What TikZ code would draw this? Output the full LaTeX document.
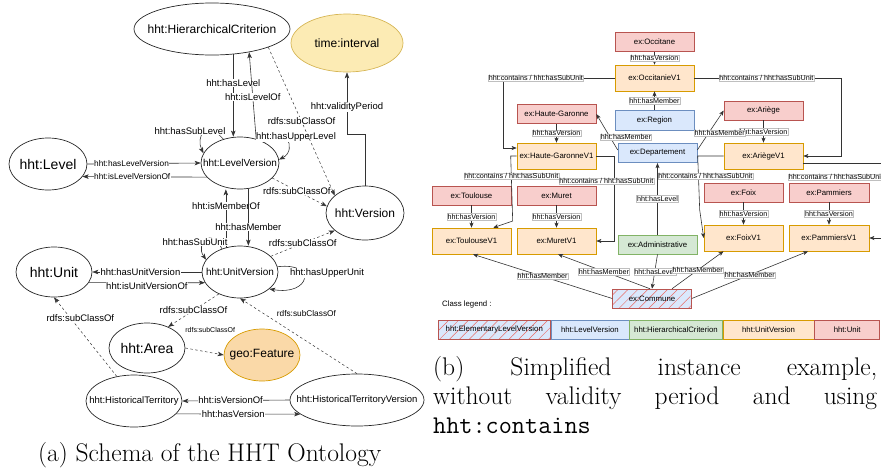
\documentclass[tikz,border=0pt]{standalone}
\usepackage{fontspec}
\newfontfamily\arial{Liberation Sans}
\usetikzlibrary{shapes.geometric,arrows.meta,positioning,patterns.meta}
\definecolor{redF}{HTML}{F8CECC}\definecolor{redD}{HTML}{B85450}
\definecolor{orgF}{HTML}{FFE6CC}\definecolor{orgD}{HTML}{D79B00}
\definecolor{bluF}{HTML}{DAE8FC}\definecolor{bluD}{HTML}{6C8EBF}
\definecolor{grnF}{HTML}{D5E8D4}\definecolor{grnD}{HTML}{82B366}
\definecolor{ylwF}{HTML}{FCEBB4}\definecolor{ylwD}{HTML}{D6B656}
\definecolor{geoF}{HTML}{FAD9A8}
\definecolor{hatchC}{HTML}{EA6B66}
\begin{document}
\begin{tikzpicture}[x=1pt,y=-1pt,
  cls/.style={ellipse, draw=black!85, line width=0.7pt, inner sep=0pt},
  tL/.style={font=\arial\fontsize{14}{16}\selectfont},
  tM/.style={font=\arial\fontsize{12}{14}\selectfont},
  tS/.style={font=\arial\fontsize{10}{12}\selectfont},
  tXS/.style={font=\arial\fontsize{9.5}{11}\selectfont},
  arr/.style={draw=black!80, line width=0.6pt, -{Stealth[length=6pt,width=4.5pt,inset=1.5pt]}},
  subc/.style={arr, dash pattern=on 2.5pt off 2.5pt, line width=0.5pt},
  lbl/.style={fill=white, inner sep=0.5pt, font=\arial\fontsize{9.5}{11}\selectfont},
  lblS/.style={lbl, font=\arial\fontsize{8.3}{10}\selectfont},
  lblT/.style={lbl, font=\arial\fontsize{7}{8}\selectfont},
  inst/.style={draw, line width=0.6pt, minimum width=79pt, inner sep=0pt, font=\arial\fontsize{7.8}{9}\selectfont},
  redbox/.style={inst, fill=redF, draw=redD, minimum height=19pt},
  orgbox/.style={inst, fill=orgF, draw=orgD, minimum height=26pt},
  blubox/.style={inst, fill=bluF, draw=bluD, minimum height=19.5pt},
  grnbox/.style={inst, fill=grnF, draw=grnD, minimum height=19pt},
  hatchbox/.style={inst, draw=redD, preaction={fill=bluF}, pattern={Lines[angle=45,distance=7pt,line width=0.5pt]}, pattern color=hatchC, minimum height=19pt},
  rarr/.style={draw=black!80, line width=0.6pt, -{Stealth[length=5pt,width=4pt,inset=1.2pt]}},
  rlbl/.style={fill=white, draw=black!25, line width=0.3pt, inner sep=0.6pt, font=\arial\fontsize{7.2}{8}\selectfont},
  capt/.style={inner sep=0pt, font=\fontsize{25.5}{29}\selectfont}
]
\useasboundingbox (0,0) rectangle (881,472);

\node[cls, minimum width=156pt, minimum height=52pt, label={[tM]center:{hht:HierarchicalCriterion}}] (hc) at (212,29) {};
\node[cls, fill=ylwF, draw=ylwD, minimum width=112pt, minimum height=58pt, label={[tM]center:{time:interval}}] (ti) at (347,43) {};
\node[cls, minimum width=78pt, minimum height=52pt, label={[tL]center:{hht:Level}}] (lvl) at (48,164) {};
\node[cls, minimum width=78pt, minimum height=52pt, label={[tS]center:{hht:LevelVersion}}] (lv) at (240,163) {};
\node[cls, minimum width=78pt, minimum height=54pt, label={[tM]center:{hht:Version}}] (ver) at (365,213) {};
\node[cls, minimum width=76pt, minimum height=52pt, label={[tS]center:{hht:UnitVersion}}] (uv) at (240,272) {};
\node[cls, minimum width=76pt, minimum height=50pt, label={[tL]center:{hht:Unit}}] (unt) at (54,272) {};
\node[cls, minimum width=76pt, minimum height=50pt, label={[tL]center:{hht:Area}}] (area) at (147,348) {};
\node[cls, fill=geoF, draw=orgD, minimum width=76pt, minimum height=52pt, label={[tM]center:{geo:Feature}}] (geo) at (262,355) {};
\node[cls, minimum width=96pt, minimum height=52pt, label={[tXS]center:{hht:HistoricalTerritory}}] (ht) at (134,401) {};
\node[cls, minimum width=134pt, minimum height=52pt, label={[tXS]center:{hht:HistoricalTerritoryVersion}}] (htv) at (357,400) {};

\draw[arr] (lv.125) .. controls (205,118) and (196,138) .. (lv.165) node[lbl] at (190,131) {hht:hasSubLevel};
\draw[arr] (lv.40) .. controls (285,120) and (298,150) .. (lv.5) node[lbl] at (296,137) {hht:hasUpperLevel};
\draw[arr] (hc.-50) -- (hc.-50 |- lv.north) node[lbl, pos=0.35] {hht:hasLevel};
\draw[arr] (lv.56) -- (hc.-32) node[lbl, pos=0.48] {hht:isLevelOf};
\draw[subc] (hc.-18) -- (ver.150) node[lbl, pos=0.5] {rdfs:subClassOf};
\draw[subc] (lv.-25) -- (ver.170) node[lbl, pos=0.45] {rdfs:subClassOf};
\draw[arr] (ver.north) -- ++(0,-51) -| (ti.south) node[lbl, pos=0.72] {hht:validityPeriod};
\draw[arr] (lvl.east) -- (lv.west) node[lblS, pos=0.39] {hht:hasLevelVersion};
\draw[arr] (lv.-157) -- (lvl.-20) node[lblS, pos=0.6] {hht:isLevelVersionOf};
\draw[arr] (uv.120) -- (uv.120 |- lv.south) node[lbl, pos=0.71] {hht:isMemberOf};
\draw[arr] (lv.-72) -- (lv.-72 |- uv.north) node[lbl, pos=0.67] {hht:hasMember};
\draw[subc] (uv.27) -- (ver.-150) node[lbl, pos=0.5] {rdfs:subClassOf};
\draw[arr] (uv.128) .. controls (212,226) and (195,244) .. (uv.160) node[lbl] at (195,242) {hht:hasSubUnit};
\draw[arr] (uv.8) .. controls (318,262) and (310,296) .. (uv.-30) node[lbl] at (327,273) {hht:hasUpperUnit};
\draw[arr] (uv.west) -- (unt.east) node[lbl, pos=0.56] {hht:hasUnitVersion};
\draw[arr] (unt.-17) -- (uv.-163) node[lbl, pos=0.5, yshift=-3pt] {hht:isUnitVersionOf};
\draw[subc] (uv.-134) -- (area.45) node[lbl, pos=0.5] {rdfs:subClassOf};
\draw[subc] (area.east) -- (geo.west) node[lblT, pos=0.65, yshift=23pt] {rdfs:subClassOf};
\draw[subc] (ht.125) -- (unt.south) node[lbl, pos=0.74, xshift=10pt] {rdfs:subClassOf};
\draw[subc] (htv.north) -- (uv.south) node[lblS, pos=0.8, xshift=43pt] {rdfs:subClassOf};
\draw[arr] (htv.west) -- (ht.east) node[lbl, pos=0.55] {hht:isVersionOf};
\draw[arr] (ht.-17) -- (htv.-166) node[lbl, pos=0.46] {hht:hasVersion};

\node[redbox] (occ) at (654.5,42) {ex:Occitane};
\node[orgbox] (occv) at (654.5,78) {ex:OccitanieV1};
\node[blubox] (reg) at (654.5,120.5) {ex:Region};
\node[blubox] (dep) at (657.5,153) {ex:Departement};
\node[redbox] (hg) at (556.5,114) {ex:Haute-Garonne};
\node[orgbox] (hgv) at (556.5,156) {ex:Haute-GaronneV1};
\node[redbox] (ari) at (763.5,110.5) {ex:Ariège};
\node[orgbox] (ariv) at (763.5,156) {ex:AriègeV1};
\node[redbox] (tou) at (471.5,195.5) {ex:Toulouse};
\node[orgbox] (touv) at (471.5,241) {ex:ToulouseV1};
\node[redbox] (mur) at (556.5,195.5) {ex:Muret};
\node[orgbox] (murv) at (556.5,241) {ex:MuretV1};
\node[grnbox] (adm) at (657.5,244.5) {ex:Administrative};
\node[redbox] (foi) at (743.5,192.5) {ex:Foix};
\node[orgbox] (foiv) at (743.5,238) {ex:FoixV1};
\node[redbox, minimum width=80pt] (pam) at (829,192.5) {ex:Pammiers};
\node[orgbox, minimum width=80pt] (pamv) at (829,238) {ex:PammiersV1};
\node[hatchbox] (com) at (652,298.5) {ex:Commune};

\foreach \u/\v in {occ/occv, hg/hgv, ari/ariv, tou/touv, mur/murv, foi/foiv, pam/pamv}
  \draw[rarr] (\u) -- (\v) node[rlbl, midway] {hht:hasVersion};
\draw[rarr] (reg) -- (occv) node[rlbl, midway] {hht:hasMember};
\draw[rarr] (occv.west) -- ++(-111,0) node[rlbl, pos=0.71] {hht:contains / hht:hasSubUnit} |- ([yshift=8pt]hgv.west);
\draw[rarr] (occv.east) -- ++(147,0) node[rlbl, pos=0.49] {hht:contains / hht:hasSubUnit} |- (ariv.east);
\draw[rarr] ([yshift=3pt]dep.west) -- (hg.east) node[rlbl, pos=0.36, xshift=16pt] {hht:hasMember};
\draw[rarr] ([yshift=3pt]dep.east) -- (ari.west) node[rlbl, pos=0.43, xshift=11pt] {hht:hasMember};
\draw[rarr] (hgv.west) -- ++(-6,0) -- ++(2,65) node[rlbl, pos=0.31] {hht:contains / hht:hasSubUnit} -- ([xshift=-18pt]touv.north east);
\draw[rarr] (hgv.east) -- ++(18,0) |- (murv.east) node[rlbl, pos=0.147, xshift=-8pt] {hht:contains / hht:hasSubUnit};
\draw[rarr] (ariv.west) -- ++(-26,0) -- ++(2,54) node[rlbl, pos=0.37, xshift=7pt] {hht:contains / hht:hasSubUnit} -- (foiv.west);
\draw[rarr] ([yshift=-7pt]ariv.east) -- ++(90,0) |- (pamv.east) node[rlbl] at (836,177) {hht:contains / hht:hasSubUnit};
\draw[rarr] (adm) -- (dep) node[rlbl, midway] {hht:hasLevel};
\draw[rarr] (adm.south) -- (com.north) node[rlbl, midway] {hht:hasLevel};
\draw[rarr] (com.west) -- ([xshift=1.5pt]touv.south) node[rlbl, pos=0.5] {hht:hasMember};
\draw[rarr] ([xshift=-2pt]com.north) -- ([xshift=1.5pt]murv.south) node[rlbl, pos=0.5] {hht:hasMember};
\draw[rarr] ([xshift=20pt]com.north) -- ([xshift=-20pt]foiv.south) node[rlbl, pos=0.5] {hht:hasMember};
\draw[rarr] (com.east) -- ([xshift=-21pt]pamv.south) node[rlbl, pos=0.5] {hht:hasMember};

\node[inner sep=0pt, anchor=west, font=\arial\fontsize{7.8}{9}\selectfont] (legt) at (442,304) {Class legend :};
\node[hatchbox, minimum width=112pt, anchor=west] (lg1) at (438,329.5) {hht:ElementaryLevelVersion};
\node[blubox, minimum width=78pt, minimum height=19pt, right=0pt of lg1] (lg2) {hht:LevelVersion};
\node[grnbox, minimum width=93pt, right=0pt of lg2] (lg3) {hht:HierarchicalCriterion};
\node[orgbox, minimum width=91pt, minimum height=19pt, right=0pt of lg3] (lg4) {hht:UnitVersion};
\node[redbox, minimum width=65pt, right=0pt of lg4] (lg5) {hht:Unit};

\node[capt, anchor=base west] (capa) at (38,461) {(a) Schema of the HHT Ontology};
\node[capt, anchor=north west, text width=444pt, align=justify] (capb) at (433,356) {(b) Simplified instance example,\linebreak without validity period and using\linebreak \texttt{hht:contains}};
\end{tikzpicture}
\end{document}
